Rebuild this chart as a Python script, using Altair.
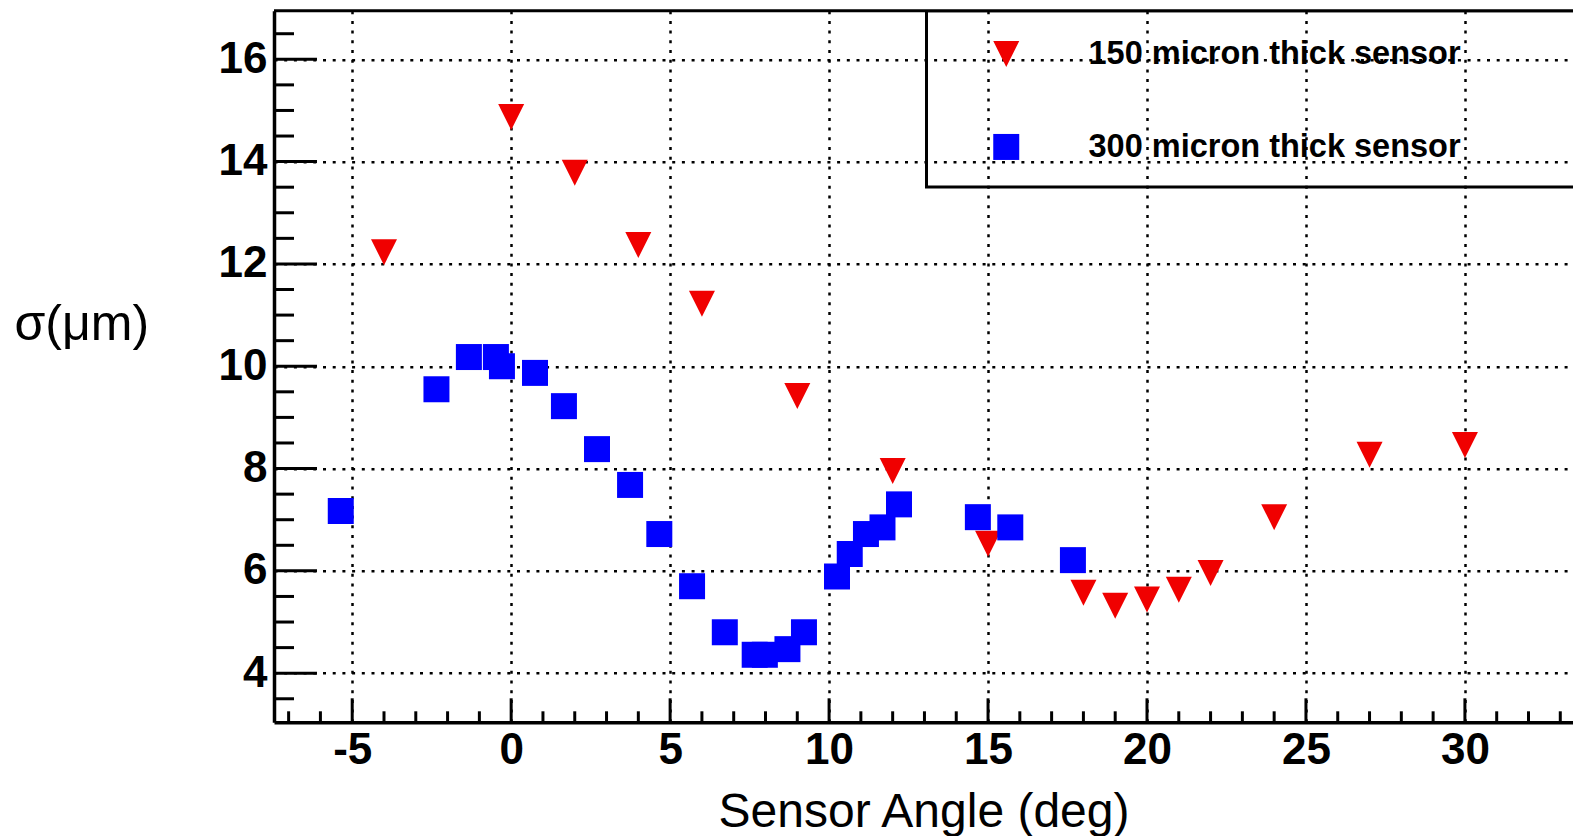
import altair as alt
import pandas as pd

# Spatial resolution vs. sensor tilt angle for two sensor thicknesses
angle_150 = [-4, 0, 2, 4, 6, 9, 12, 15, 18, 19, 20, 21, 22, 24, 27, 30]
sigma_150 = [12.23, 14.87, 13.78, 12.37, 11.22, 9.42, 7.95, 6.53, 5.57, 5.32,
             5.44, 5.63, 5.96, 7.05, 8.27, 8.46]

angle_300 = [-5.36, -2.35, -1.33, -0.48, -0.29, 0.75, 1.66, 2.70, 3.74, 4.66,
             5.69, 6.72, 7.66, 7.98, 8.69, 9.21, 10.25, 10.65, 11.16, 11.68,
             12.20, 14.68, 15.70, 17.67]
sigma_300 = [7.17, 9.55, 10.18, 10.18, 10.00, 9.87, 9.22, 8.38, 7.68, 6.72,
             5.70, 4.80, 4.36, 4.36, 4.47, 4.80, 5.89, 6.33, 6.72, 6.85,
             7.30, 7.05, 6.85, 6.21]

series_names = ["150 micron thick sensor", "300 micron thick sensor"]
series_colors = ["#f00000", "#0000ff"]
TRI_DOWN = "M -1 -1 L 1 -1 L 0 1 Z"
series_shapes = [TRI_DOWN, "square"]

x_major = [-5, 0, 5, 10, 15, 20, 25, 30]
x_minor = [v for v in range(-7, 34) if v % 5 != 0]
y_major = [4, 6, 8, 10, 12, 14, 16]
y_minor = [k / 2 for k in range(7, 34) if k % 4 != 0]

X_TITLE = "Sensor Angle (deg)"
Y_TITLE = "σ(μm)"

W, H = 1299, 711.6
FONT = "Liberation Sans, Arial, Helvetica, sans-serif"

x_scale = alt.Scale(domain=[-7.46, 33.4], nice=False, zero=False)
y_scale = alt.Scale(domain=[3.04, 16.95], nice=False, zero=False)

df = pd.DataFrame({
    "angle": angle_150 + angle_300,
    "sigma": sigma_150 + sigma_300,
    "series": [series_names[0]] * len(angle_150) + [series_names[1]] * len(angle_300),
})

grid_style = dict(grid=True, gridDash=[3, 6.7], gridColor="black", gridWidth=2.5,
                  gridOpacity=1, ticks=False, tickSize=0, domainColor="black",
                  domainWidth=3.5, labelFont=FONT, labelFontSize=44,
                  labelFontWeight="bold", labelColor="black",
                  titleFont=FONT, titleFontWeight="normal", titleColor="black")

legend = alt.Legend(orient="none", legendX=716, legendY=27, title=None,
                    labelFont=FONT, labelFontSize=32.5, labelFontWeight="bold",
                    labelColor="black", labelLimit=0, symbolSize=676,
                    symbolStrokeWidth=0, symbolOpacity=1, labelOffset=66,
                    rowPadding=60, padding=0)

points = alt.Chart(df).mark_point(filled=True, size=676, opacity=1, strokeWidth=0).encode(
    x=alt.X("angle:Q", scale=x_scale, title=X_TITLE,
            axis=alt.Axis(values=x_major, labelPadding=6, labelExpr="'' + datum.value",
                          titleFontSize=48, titleBaseline="alphabetic", titleY=103.7,
                          **grid_style)),
    y=alt.Y("sigma:Q", scale=y_scale, title=Y_TITLE,
            axis=alt.Axis(values=y_major, labelPadding=7, titleFontSize=50,
                          titleAngle=0, titleAlign="left", titleBaseline="alphabetic",
                          titleX=-260, titleY=329, **grid_style)),
    color=alt.Color("series:N", scale=alt.Scale(domain=series_names, range=series_colors),
                    legend=legend),
    shape=alt.Shape("series:N", scale=alt.Scale(domain=series_names, range=series_shapes),
                    legend=legend),
)


def x_ticks(values, length):
    return alt.Chart(pd.DataFrame({"v": values})).mark_rule(color="black", strokeWidth=3).encode(
        x=alt.X("v:Q", scale=x_scale, title=X_TITLE),
        y=alt.value(H), y2=alt.value(H - length))


def y_ticks(values, length):
    return alt.Chart(pd.DataFrame({"v": values})).mark_rule(color="black", strokeWidth=3).encode(
        y=alt.Y("v:Q", scale=y_scale, title=Y_TITLE),
        x=alt.value(0), x2=alt.value(length))


one = pd.DataFrame({"k": [0]})
frame_top = alt.Chart(one).mark_rule(color="black", strokeWidth=3).encode(
    x=alt.value(0), x2=alt.value(W), y=alt.value(0))
legend_box = alt.Chart(one).mark_rect(fillOpacity=0, stroke="black", strokeWidth=3,
                                      clip=True).encode(
    x=alt.value(652.5), x2=alt.value(W + 30), y=alt.value(0), y2=alt.value(176.3))

chart = alt.layer(
    points,
    legend_box,
    x_ticks(x_major, 24), x_ticks(x_minor, 11),
    y_ticks(y_major, 43), y_ticks(y_minor, 20),
    frame_top,
).properties(
    width=W, height=H,
    padding={"left": 274, "top": 10.7, "right": 0, "bottom": 113.7},
    autosize=alt.AutoSizeParams(type="none"),
).configure_view(strokeWidth=0)

chart.save("out.html", embed_options={"renderer": "svg", "actions": False})
